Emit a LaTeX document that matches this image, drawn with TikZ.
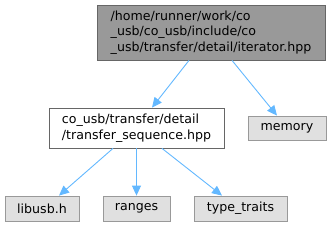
\documentclass[tikz,border=0pt]{standalone}
\usepackage{fontspec}
\setmainfont{DejaVu Sans}
\usetikzlibrary{arrows.meta}
\definecolor{edgeblue}{HTML}{63B8FF}
\definecolor{topfill}{HTML}{999999}
\definecolor{darkline}{HTML}{666666}
\definecolor{leaffill}{HTML}{E0E0E0}
\definecolor{leafline}{HTML}{999999}
\tikzset{
  box/.style={draw, rectangle, inner sep=0pt, line width=0.8pt, font=\fontsize{12.6}{15.5}\selectfont, align=left},
  topbox/.style={box, fill=topfill, draw=darkline},
  midbox/.style={box, fill=white, draw=darkline},
  leafbox/.style={box, fill=leaffill, draw=leafline},
  edge/.style={draw=edgeblue, line width=0.9pt, -{Triangle[length=10pt,width=9pt]}, shorten >=0pt}
}
\begin{document}
\begin{tikzpicture}[x=1pt,y=-1pt]
\useasboundingbox (0,0) rectangle (331,227);
\node[topbox, minimum width=228pt, minimum height=55pt] (top) at (211,32.5) {/home/runner/work/co\\\_usb/co\_usb/include/co\\\_usb/transfer/detail/iterator.hpp};
\node[midbox, minimum width=175pt, minimum height=40pt] (mid) at (136.5,128) {co\_usb/transfer/detail\\/transfer\_sequence.hpp};
\node[leafbox, minimum width=78pt, minimum height=24pt] (memory) at (287,128) {memory};
\node[leafbox, minimum width=74pt, minimum height=25pt] (libusb) at (42,208.5) {libusb.h};
\node[leafbox, minimum width=67pt, minimum height=25pt] (ranges) at (136.5,208.5) {ranges};
\node[leafbox, minimum width=93pt, minimum height=25pt] (traits) at (240.5,208.5) {type\_traits};
\draw[edge] ([xshift=-22pt]top.south) -- ([xshift=15.5pt]mid.north);
\draw[edge] ([xshift=21pt]top.south) -- ([xshift=-10pt]memory.north);
\draw[edge] ([xshift=-23.5pt]mid.south) -- ([xshift=17pt]libusb.north);
\draw[edge] (mid.south) -- (ranges.north);
\draw[edge] ([xshift=25.5pt]mid.south) -- ([xshift=-18.5pt]traits.north);
\end{tikzpicture}
\end{document}
